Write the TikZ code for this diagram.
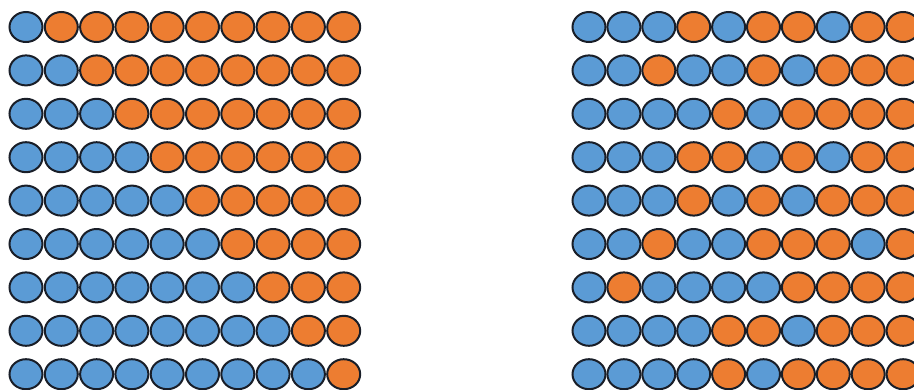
\documentclass[tikz,border=0pt]{standalone}
\usepackage{xcolor}
\usetikzlibrary{shapes.geometric}
\definecolor{cB}{RGB}{91,155,213}
\definecolor{cO}{RGB}{237,125,49}
\definecolor{cRim}{RGB}{25,30,40}

\begin{document}
\begin{tikzpicture}[x=1pt, y=-1pt,
    bead/.style={ellipse, draw=cRim, line width=2pt, fill=c#1,
        minimum width=33pt, minimum height=30pt, inner sep=0pt}]
    % Frame of the picture
    \useasboundingbox (0,0) rectangle (914,389);

    % Left grid: row r has r blue beads, the rest orange
    \foreach \r in {1,...,9} {
        \foreach \c in {1,...,10} {
            \edef\tone{\ifnum\c>\r O\else B\fi}
            \node[bead=\tone] (L-\r-\c) at ({26+35.3*(\c-1)}, {27+43.4*(\r-1)}) {};
        }
    }

    % Right grid: same counts, mixed order
    \foreach \row [count=\r] in {
        {B,B,B,O,B,O,O,B,O,O},
        {B,B,O,B,B,O,B,O,O,O},
        {B,B,B,B,O,B,O,O,O,O},
        {B,B,B,O,O,B,O,B,O,O},
        {B,B,B,O,B,O,B,O,O,O},
        {B,B,O,B,B,O,O,O,B,O},
        {B,O,B,B,B,B,O,O,O,O},
        {B,B,B,B,O,O,B,O,O,O},
        {B,B,B,B,O,B,O,O,O,O}} {
        \foreach \tone [count=\c] in \row {
            \node[bead=\tone] (R-\r-\c) at ({589+34.9*(\c-1)}, {27+43.4*(\r-1)}) {};
        }
    }
\end{tikzpicture}
\end{document}
